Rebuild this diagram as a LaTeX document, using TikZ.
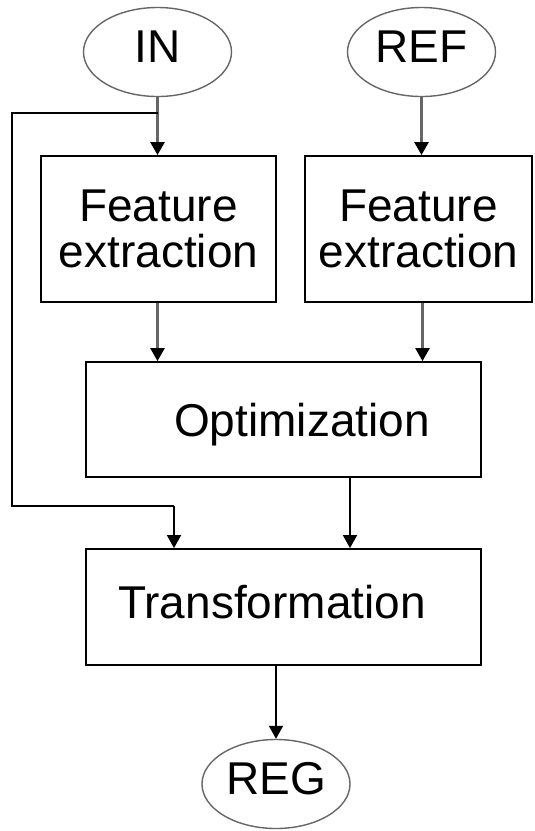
\documentclass[tikz,border=0pt]{standalone}
\usepackage{fontspec}
\setmainfont{Liberation Sans}
\usetikzlibrary{arrows.meta,shapes.geometric}
\begin{document}
\begin{tikzpicture}[x=1pt,y=-1pt,
  every node/.style={font=\fontsize{46pt}{46pt}\selectfont},
  stepbox/.style={draw=black,line width=1.8pt,rectangle,inner sep=0pt,align=center},
  oval/.style={draw=gray!80!black,line width=1.4pt,ellipse,inner sep=0pt,
     minimum width=148pt,minimum height=89pt,text height=33pt,text depth=0pt},
  conn/.style={line width=1.8pt,-{Triangle[length=13pt,width=14pt]}},
  gconn/.style={line width=2.4pt,draw=black!60,-{Triangle[length=13pt,width=14pt,color=black]}},
]
\useasboundingbox (0,0) rectangle (535,831);
\node[oval] (IN) at (157.5,52) {\raisebox{6pt}{IN}};
\node[oval] (REF) at (421.5,52) {\raisebox{6pt}{REF}};
\node[stepbox,minimum width=235pt,minimum height=146pt] (Lf) at (158.5,229) {Feature\\extraction};
\node[stepbox,minimum width=227pt,minimum height=146pt] (Rf) at (418.5,229) {Feature\\extraction};
\node[stepbox,minimum width=395pt,minimum height=115pt,text height=33pt,text depth=0pt] (Opt) at (283.5,419.5) {\hspace*{37pt}Optimization};
\node[stepbox,minimum width=395pt,minimum height=116pt,text height=33pt,text depth=0pt] (Tr) at (283.5,607) {\raisebox{5pt}{Transformation}\hspace*{23pt}};
\node[oval] (REG) at (276,784) {\raisebox{6.5pt}{REG}};
\coordinate (br) at (157.5,113);
\coordinate (c1) at (12,113);
\coordinate (c2) at (12,506);
\coordinate (c3) at (174,506);
\draw[gconn] (IN.south) -- (IN.south |- Lf.north);
\draw[line width=1.8pt] (br) -- (c1) -- (c2) -- (c3);
\draw[conn] (c3) -- (c3 |- Tr.north);
\draw[gconn] (REF.south) -- (REF.south |- Rf.north);
\draw[gconn] (IN.south |- Lf.south) -- (IN.south |- Opt.north);
\draw[gconn] ([xshift=1pt]REF.south |- Rf.south) -- ([xshift=1pt]REF.south |- Opt.north);
\draw[conn] ([xshift=66.5pt]Opt.south) -- ([xshift=66.5pt]Opt.south |- Tr.north);
\draw[conn] (REG.north |- Tr.south) -- (REG.north);
\end{tikzpicture}
\end{document}
